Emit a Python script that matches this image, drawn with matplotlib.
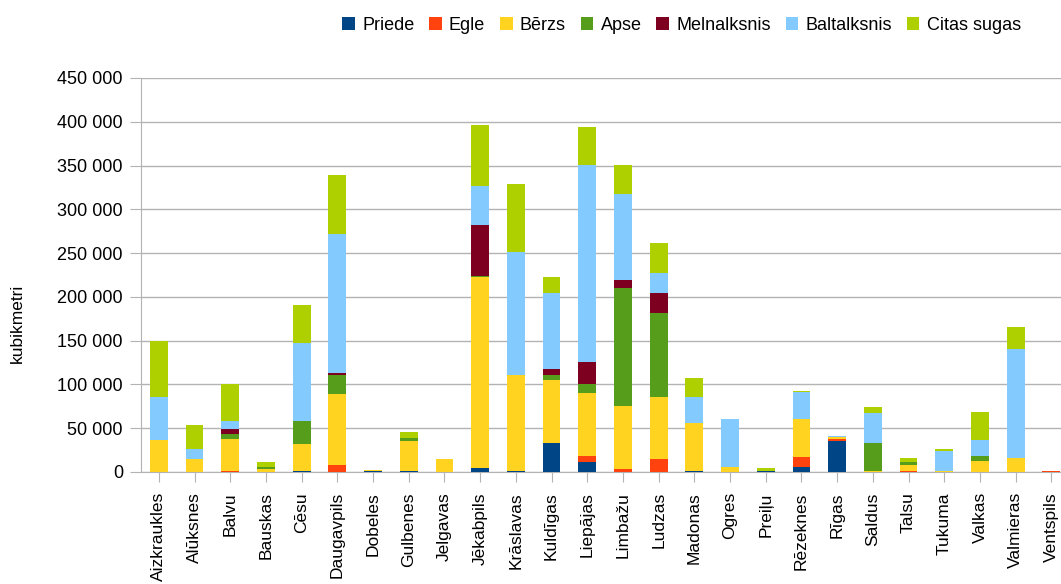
import matplotlib
matplotlib.use("Agg")
import matplotlib.pyplot as plt
from matplotlib.ticker import FuncFormatter
import numpy as np

# Regions (x categories)
regions = ["Aizkraukles", "Alūksnes", "Balvu", "Bauskas", "Cēsu", "Daugavpils",
           "Dobeles", "Gulbenes", "Jelgavas", "Jēkabpils", "Krāslavas", "Kuldīgas",
           "Liepājas", "Limbažu", "Ludzas", "Madonas", "Ogres", "Preiļu",
           "Rēzeknes", "Rīgas", "Saldus", "Talsu", "Tukuma", "Valkas",
           "Valmieras", "Ventspils"]

# Volumes by species, thousand m3
priede = [0, 0, 0, 0, 1, 0, 1, 0.8, 0, 4.2, 0.8, 33.5,
          11.8, 0, 0, 0.8, 0, 0.8, 6.1, 35.4, 0, 0, 0, 0, 0, 0]
egle = [0, 0, 1, 0, 0, 7.6, 0, 0, 0, 0, 0, 0,
        6.9, 3.8, 15.2, 0, 0, 0, 11.4, 1.9, 0, 0.8, 0, 0, 0, 1.0]
berzs = [36, 15, 37, 3.8, 31.5, 82, 0.8, 34.2, 14.5, 218, 110.4, 72,
         72, 72, 70.9, 54.8, 6.1, 0.7, 43.5, 2.7, 1.5, 7.6, 0.8, 12.6, 16.4, 0]
apse = [0, 0, 5.8, 1.5, 26.3, 21.3, 0, 3.5, 0, 1.2, 0, 5.7,
        10.3, 134.9, 96, 0, 0, 0, 0, 0, 32, 3.4, 0, 6.1, 0, 0]
melnalksnis = [0, 0, 5.7, 0, 0, 1.9, 0, 0, 0, 58.3, 0, 6.9,
               25.1, 9.1, 22.9, 0, 0, 0, 0, 0, 0, 0, 0, 0, 0, 0]
baltalksnis = [50, 11.5, 9.2, 0, 89, 158.5, 0, 0, 0, 44.5, 139.5, 86.9,
               224, 97.2, 22.8, 30.5, 54.9, 0, 30.8, 1.5, 33.9, 0, 23.2, 18.3, 124.2, 0]
citas = [64, 27.5, 42.3, 6.5, 43.4, 67.5, 0, 6.8, 0, 69.8, 78.8, 18.2,
         43.4, 33.1, 33.2, 21.7, 0, 3.5, 1.2, 0, 6.9, 4.2, 2.3, 31.6, 25.1, 0]

species = ["Priede", "Egle", "Bērzs", "Apse", "Melnalksnis", "Baltalksnis", "Citas sugas"]
series = [priede, egle, berzs, apse, melnalksnis, baltalksnis, citas]
colors = ["#004586", "#ff420e", "#ffd320", "#579d1c", "#7e0021", "#83caff", "#aecf00"]

plt.rcParams['font.family'] = ['Liberation Sans', 'DejaVu Sans']

fig = plt.figure(figsize=(10.61, 5.84), dpi=100)
# plot area runs a little past the right edge, like the reference
ax = fig.add_axes([141 / 1061, 1 - 472 / 584, 26 * 35.7 / 1061, (472 - 78) / 584])

x = np.arange(len(regions))
bottom = np.zeros(len(regions))
for name, vals, col in zip(species, series, colors):
    v = np.array(vals) * 1000
    ax.bar(x, v, width=0.5, bottom=bottom, color=col, label=name, zorder=3)
    bottom += v

ax.set_xlim(-0.5, len(regions) - 0.5)
ax.set_ylim(0, 450000)
ax.set_yticks(np.arange(0, 450001, 50000))
ax.yaxis.set_major_formatter(FuncFormatter(lambda v, p: "{:,}".format(int(v)).replace(",", " ")))
ax.set_xticks(x)
ax.set_xticklabels(regions, rotation=90, fontsize=12.5)
ax.tick_params(axis='y', labelsize=13, length=8, pad=5, color='#b3b3b3')
ax.tick_params(axis='x', length=7.5, color='#b3b3b3', pad=7)
ax.grid(axis='y', color='#b3b3b3', linewidth=1, zorder=0)
for s in ['top', 'right']:
    ax.spines[s].set_visible(False)
for s in ['left', 'bottom']:
    ax.spines[s].set_color('#b3b3b3')
    ax.spines[s].set_zorder(1)
ax.set_ylabel("kubikmetri", fontsize=12.5)
ax.yaxis.set_label_coords((25 - 141) / (26 * 35.7), (472 - 323) / 394)

fig.legend(loc='center left', bbox_to_anchor=(335 / 1061, 1 - 25 / 584), ncol=7,
           frameon=False, fontsize=13, handlelength=0.7, handleheight=0.7,
           handletextpad=0.4, columnspacing=0.82, borderaxespad=0)

fig.savefig("out.png", dpi=100)
